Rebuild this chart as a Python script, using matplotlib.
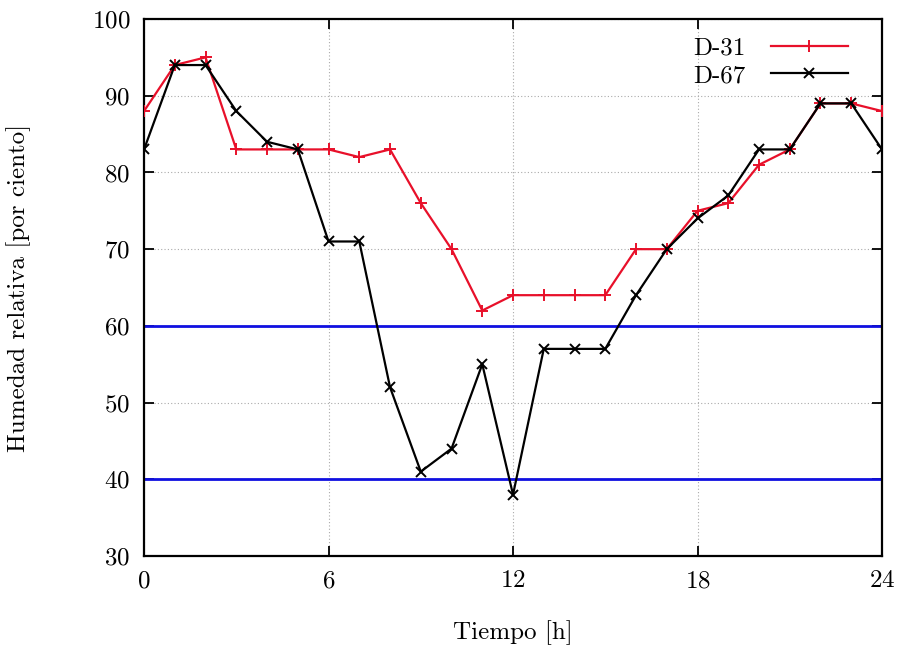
import matplotlib
matplotlib.use("Agg")
import matplotlib.pyplot as plt

hours = list(range(25))
d31 = [88, 94, 95, 83, 83, 83, 83, 82, 83, 76, 70, 62, 64, 64, 64, 64, 70, 70, 75, 76, 81, 83, 89, 89, 88]
d67 = [83, 94, 94, 88, 84, 83, 71, 71, 52, 41, 44, 55, 38, 57, 57, 57, 64, 70, 74, 77, 83, 83, 89, 89, 83]
limits = [60, 40]
xticks = [0, 6, 12, 18, 24]
yticks = [30, 40, 50, 60, 70, 80, 90, 100]

plt.rcParams['font.family'] = ['cmr10', 'DejaVu Serif']
plt.rcParams['axes.formatter.use_mathtext'] = True

fig = plt.figure(figsize=(9.06, 6.45), dpi=100)
ax = fig.add_axes([0.159, 0.138, 0.8145, 0.8325])

for v in limits:
    ax.axhline(v, color='#1010e0', lw=2.0, zorder=2)

ax.plot(hours, d31, color='#e8102a', marker='+', ms=9, mew=1.4, lw=1.6, label='D-31', zorder=3)
ax.plot(hours, d67, color='black', marker='x', ms=7, mew=1.4, lw=1.6, label='D-67', zorder=4)

ax.set_xlim(0, 24)
ax.set_ylim(30, 100)
ax.set_xticks(xticks)
ax.set_yticks(yticks)
ax.grid(True, color='#aaaaaa', linestyle=(0, (1, 2)), lw=0.8)
ax.tick_params(direction='in', top=True, right=True, length=7, width=1.3, labelsize=18, pad=10)
for s in ax.spines.values():
    s.set_linewidth(1.6)

ax.set_xlabel('Tiempo [h]', fontsize=18, labelpad=20)
ax.set_ylabel('Humedad relativa [por ciento]', fontsize=18, labelpad=44)

leg = ax.legend(loc='upper right', bbox_to_anchor=(0.9675, 0.985), frameon=False,
                markerfirst=False, fontsize=18, handlelength=3.1, borderaxespad=0.0,
                labelspacing=0.2, handletextpad=1.0)

fig.savefig('out.png', dpi=100)
